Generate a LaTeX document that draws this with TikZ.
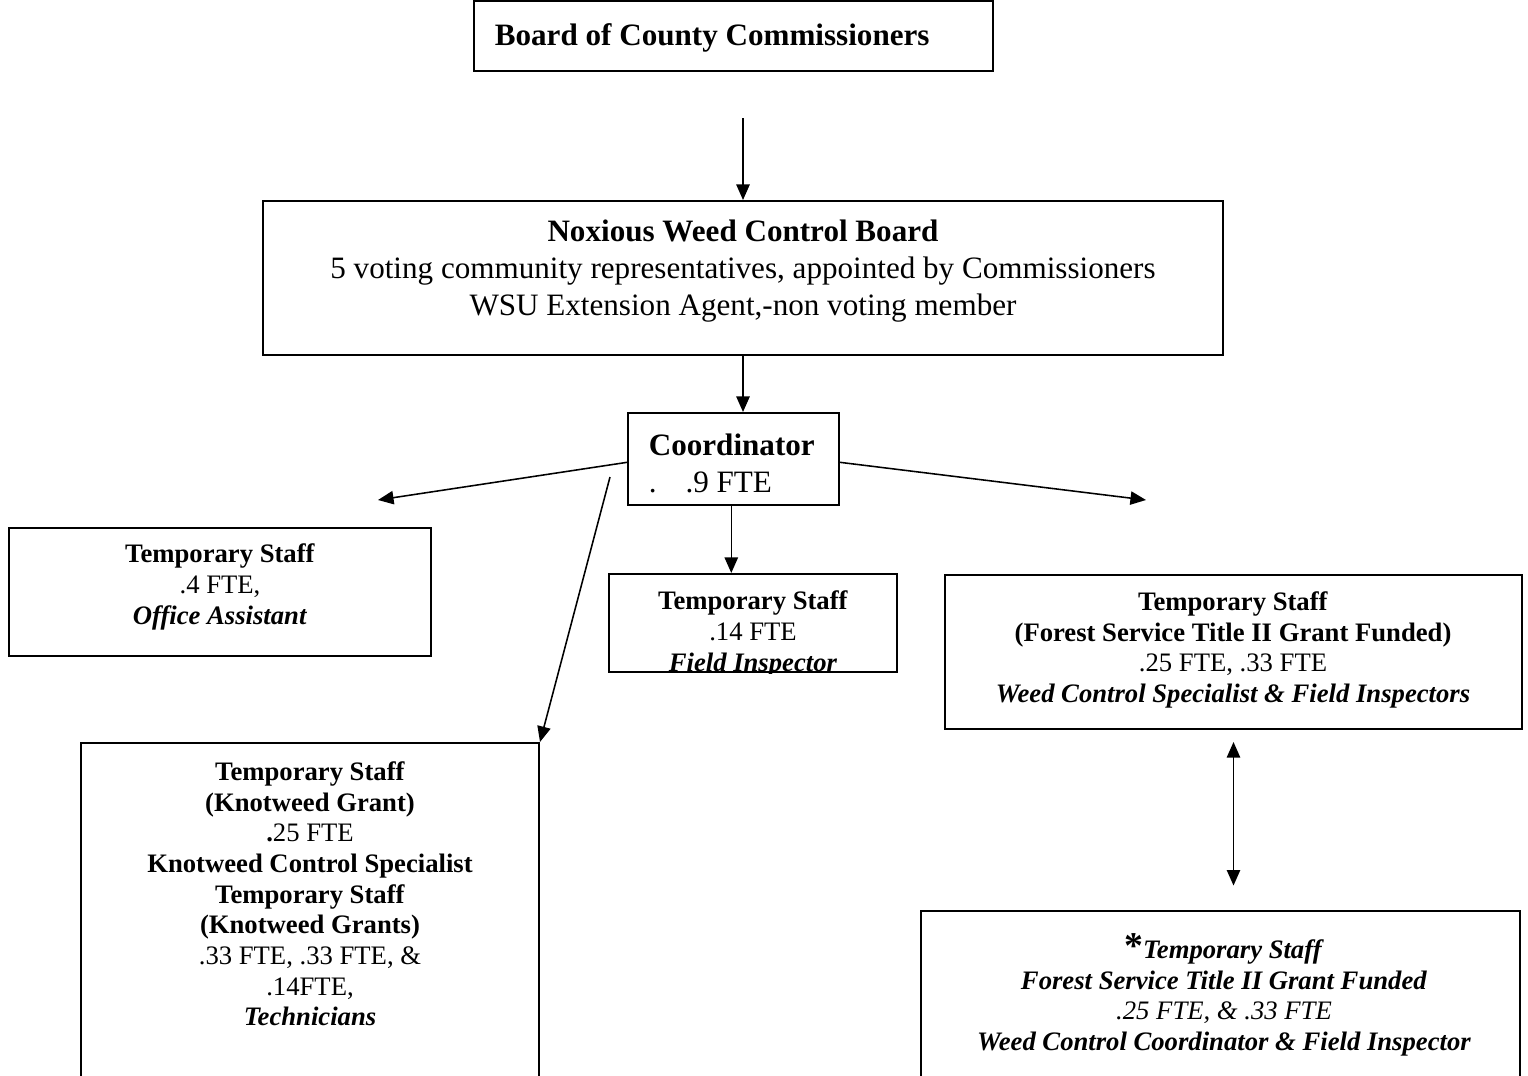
\documentclass[tikz,border=0pt]{standalone}
\usepackage{fontspec}
\setmainfont{Liberation Serif}
\usetikzlibrary{arrows.meta,fit,positioning}
\tikzset{
  box/.style={draw,line width=0.9pt,inner sep=0pt},
  big/.style={font=\fontsize{14}{16.6}\selectfont,align=center},
  small/.style={font=\fontsize{12}{13.8}\selectfont,align=center},
  arr/.style={-{Triangle[length=7pt,width=6pt]},line width=0.7pt},
  dblarr/.style={{Triangle[length=7pt,width=6pt]}-{Triangle[length=7pt,width=6pt]},line width=0.7pt}
}
\begin{document}
\begin{tikzpicture}[x=0.45pt,y=-0.45pt]
  \useasboundingbox (0,0) rectangle (1528,1076);
  % boxes
  \node[box,fit={(474,1) (993,71)}] (board) {};
  \node[box,fit={(263,201) (1223,355)}] (nwcb) {};
  \node[box,fit={(628,413) (839,505)}] (coord) {};
  \node[box,fit={(9,528) (431,656)}] (office) {};
  \node[box,fit={(609,574) (897,672)}] (field) {};
  \node[box,fit={(945,575) (1522,729)}] (forest) {};
  \node[box,fit={(81,743) (539,1095)}] (knot) {};
  \node[box,fit={(921,911) (1520,1095)}] (title) {};
  % texts
  \node[big,anchor=west] (boardtxt) at (487,38) {\textbf{Board of County Commissioners}};
  \node[big] (nwcbtxt) at (743,271) {\textbf{Noxious Weed Control Board}\\
    5 voting community representatives, appointed by Commissioners\\
    WSU Extension Agent,-non voting member};
  \node[big,align=left,anchor=west] (coordtxt) at (641,463) {\textbf{Coordinator}\\.\hspace{13pt}.9 FTE};
  \node[small] (officetxt) at (220,587) {\textbf{Temporary Staff}\\.4 FTE,\\\textbf{\textit{Office Assistant}}};
  \begin{scope}
    \clip (field.south west) rectangle (field.north east);
    \node[small] (fieldtxt) at (753,634) {\textbf{Temporary Staff}\\.14 FTE\\\textbf{\textit{Field Inspector}}};
  \end{scope}
  \node[small] (foresttxt) at (1233,650) {\textbf{Temporary Staff}\\\textbf{(Forest Service Title II Grant Funded)}\\
    .25 FTE, .33 FTE\\\textbf{\textit{Weed Control Specialist \& Field Inspectors}}};
  \node[small] (knottxt) at (310,894) {\textbf{Temporary Staff}\\\textbf{(Knotweed Grant)}\\\textbf{.}25 FTE\\
    \textbf{Knotweed Control Specialist}\\\textbf{Temporary Staff}\\\textbf{(Knotweed Grants)}\\
    .33 FTE, .33 FTE, \&\\.14FTE,\\\textbf{\textit{Technicians}}};
  \node[small] (titletxt) at (1224,995) {{\fontsize{17}{14}\selectfont\textbf{*}}\textbf{\textit{Temporary Staff}}\\
    \textbf{\textit{Forest Service Title II Grant Funded}}\\\textit{.25 FTE, \& .33 FTE}\\
    \textbf{\textit{Weed Control Coordinator \& Field Inspector}}};
  % connectors
  \coordinate (top) at (743,118);
  \coordinate (lft) at (378,500);
  \coordinate (rgt) at (1146,500);
  \coordinate (kstart) at (610,477);
  \coordinate (d0) at ([yshift=-5.4pt]forest.south);
  \coordinate (d1) at ([yshift=11pt]title.north);
  \draw[arr] (top) -- (nwcb.north);
  \draw[arr] (nwcb.south) -- (nwcb.south |- coord.north);
  \draw[arr] ([yshift=-1.5pt]coord.west) -- (lft);
  \draw[arr] ([yshift=-1.5pt]coord.east) -- (rgt);
  \draw[arr] (kstart) -- (knot.north east);
  \draw[arr] ([xshift=-1pt]coord.south) -- ([xshift=-1pt]coord.south |- field.north);
  \draw[dblarr] (d0) -- (d0 |- d1);
\end{tikzpicture}
\end{document}
